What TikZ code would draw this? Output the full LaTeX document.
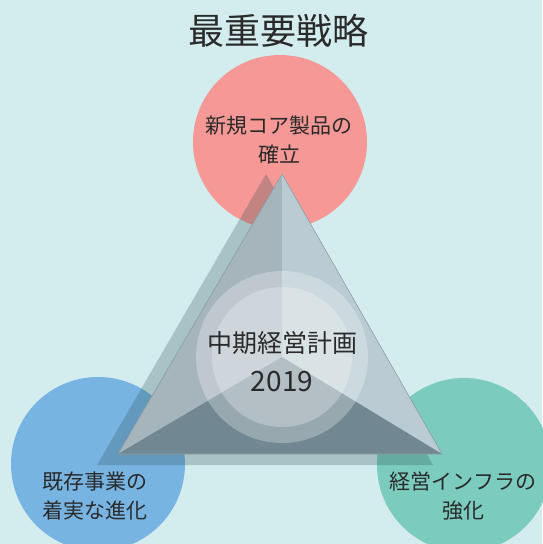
\documentclass[tikz,border=0pt]{standalone}
\usepackage{fontspec}
\setmainfont{Noto Sans CJK JP}
\definecolor{bgc}{HTML}{D3ECEE}
\definecolor{redc}{HTML}{F59896}
\definecolor{bluec}{HTML}{78B4E2}
\definecolor{greenc}{HTML}{7BCBBE}
\definecolor{shadowc}{RGB}{39,76,78}
\definecolor{tlc}{HTML}{A6B4BC}
\definecolor{trc}{HTML}{BACBD3}
\definecolor{botc}{HTML}{718892}
\definecolor{edgec}{HTML}{8C9CA4}
\definecolor{txtc}{HTML}{2A2A2A}
\tikzset{
  bigcirc/.style={circle, inner sep=0pt, minimum size=174pt},
  lbl/.style={text=txtc, align=center, font=\fontsize{21}{29}\selectfont},
  halo/.style={fill=white, fill opacity=0.27}
}
\begin{document}
\begin{tikzpicture}[x=1pt,y=-1pt]
\fill[bgc] (0,0) rectangle (542,544);
\useasboundingbox (0,0) rectangle (542,544);
% circles
\node[bigcirc, fill=redc] (cTop) at (280,142) {};
\node[bigcirc, fill=bluec] (cLeft) at (98,464) {};
\node[bigcirc, fill=greenc] (cRight) at (464,465) {};
% shadow triangle
\coordinate (sA) at (266,174);
\coordinate (sB) at (97,465);
\coordinate (sC) at (433,465);
\fill[shadowc, fill opacity=0.25] (sA) -- (sB) -- (sC) -- cycle;
% main triangle
\coordinate (A) at (282,174);
\coordinate (B) at (118,454);
\coordinate (C) at (442,454);
\coordinate (O) at (282,357);
\fill[tlc] (A) -- (O) -- (B) -- cycle;
\fill[trc] (A) -- (O) -- (C) -- cycle;
\fill[botc] (B) -- (O) -- (C) -- cycle;
\draw[edgec, line width=0.6pt, line join=round] (A) -- (B) -- (C) -- cycle;
% center halos
\fill[halo] (O) circle (86);
\fill[halo] (O) circle (70);
% texts
\node[text=txtc, font=\fontsize{36}{40}\selectfont] (title) at (278,31) {最重要戦略};
\node[text=txtc, font=\fontsize{25}{30}\selectfont] (center1) at (282,343) {中期経営計画};
\node[text=txtc, font=\fontsize{28}{30}\selectfont] (center2) at (282,382) {2019};
\node[lbl] (tTop) at (279,140) {新規コア製品の\\確立};
\node[lbl] (tLeft) at (95,496) {既存事業の\\着実な進化};
\node[lbl] (tRight) at (463,496) {経営インフラの\\強化};
\end{tikzpicture}
\end{document}
